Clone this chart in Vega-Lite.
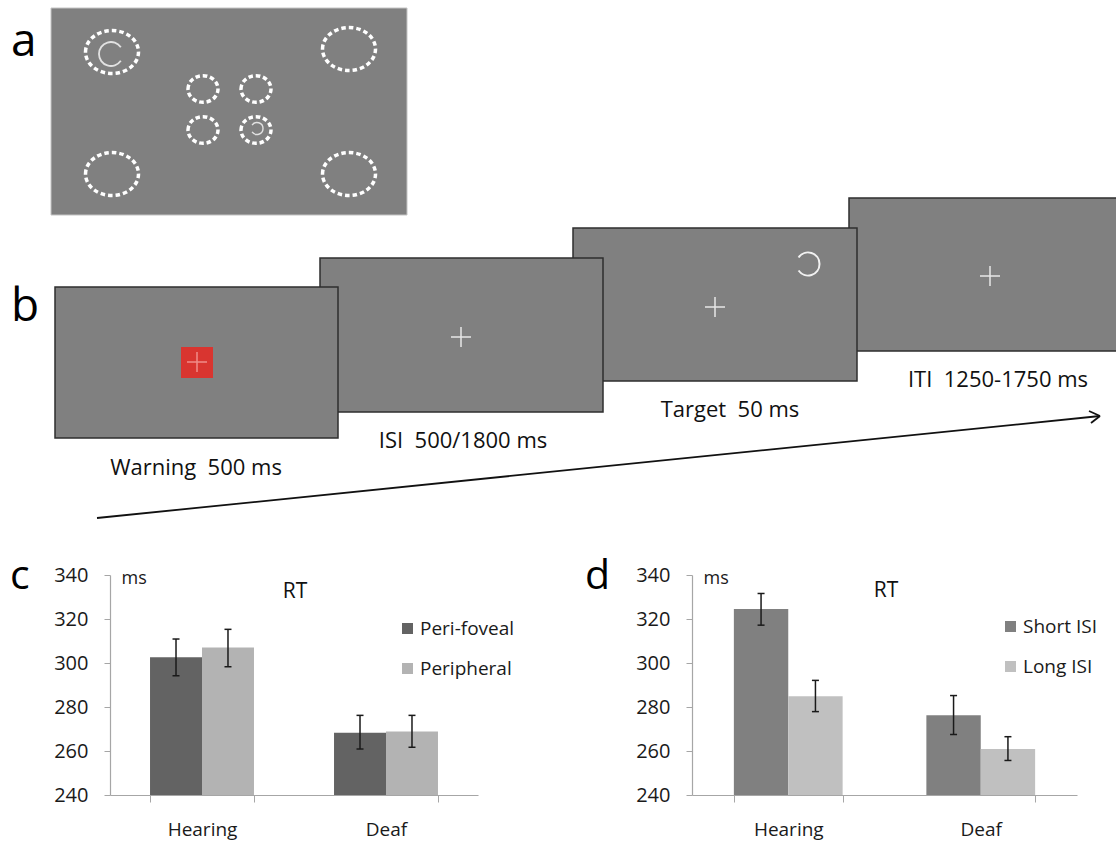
{
  "$schema": "https://vega.github.io/schema/vega-lite/v6.json",
  "width": 1116,
  "height": 841,
  "autosize": {"type": "none"},
  "padding": 0,
  "background": "white",
  "config": {"view": {"stroke": null}, "font": "Open Sans"},
  "datasets": {
    "display": [{"x": 51, "x2": 407, "y": 8, "y2": 215}],
    "screens": [
      {"screen": "ITI", "x": 849, "x2": 1125, "y": 198, "y2": 351},
      {"screen": "Target", "x": 573, "x2": 857, "y": 228, "y2": 381},
      {"screen": "ISI", "x": 320, "x2": 603, "y": 258, "y2": 412},
      {"screen": "Warning", "x": 55, "x2": 338, "y": 287, "y2": 438}
    ],
    "cue": [{"x": 181, "x2": 213, "y": 347, "y2": 378}],
    "bigPlaces": [{"x": 112, "y": 52}, {"x": 349, "y": 49}, {"x": 112, "y": 174}, {"x": 349, "y": 174}],
    "smallPlaces": [{"x": 203, "y": 89}, {"x": 256, "y": 89}, {"x": 203, "y": 130}, {"x": 256, "y": 130}],
    "fixation": [{"x": 461, "y": 337}, {"x": 715, "y": 307}, {"x": 990, "y": 276}],
    "cueFixation": [{"x": 197, "y": 362}],
    "bigC": [{"x": 111, "y": 54}],
    "targetC": [{"x": 808, "y": 264}],
    "smallC": [{"x": 257, "y": 128.5}],
    "timeline": [
      {"x": 97, "y": 518, "x2": 1100, "y2": 416},
      {"x": 1089, "y": 411, "x2": 1100, "y2": 416},
      {"x": 1091, "y": 423, "x2": 1100, "y2": 416}
    ],
    "panelLettersAB": [{"x": 11, "y": 56, "label": "a"}, {"x": 11, "y": 321, "label": "b"}],
    "panelLettersCD": [{"x": 10, "y": 589, "label": "c"}, {"x": 585, "y": 589, "label": "d"}],
    "stageLabels": [
      {"x": 196, "y": 475, "label": "Warning\u00a0 500 ms"},
      {"x": 463, "y": 448, "label": "ISI\u00a0 500/1800 ms"},
      {"x": 730, "y": 417, "label": "Target\u00a0 50 ms"},
      {"x": 998, "y": 387, "label": "ITI\u00a0 1250-1750 ms"}
    ],
    "chartTitles": [{"x": 295, "y": 598, "label": "RT"}, {"x": 886, "y": 597, "label": "RT"}],
    "rtLocation": [
      {"group": "Hearing", "condition": "Peri-foveal", "rt": 302.6, "lo": 294.2, "hi": 310.9},
      {"group": "Hearing", "condition": "Peripheral", "rt": 307.0, "lo": 298.3, "hi": 315.3},
      {"group": "Deaf", "condition": "Peri-foveal", "rt": 268.3, "lo": 260.9, "hi": 276.2},
      {"group": "Deaf", "condition": "Peripheral", "rt": 268.9, "lo": 261.7, "hi": 276.2}
    ],
    "rtISI": [
      {"group": "Hearing", "condition": "Short ISI", "rt": 324.5, "lo": 317.2, "hi": 331.6},
      {"group": "Hearing", "condition": "Long ISI", "rt": 284.9, "lo": 277.9, "hi": 292.1},
      {"group": "Deaf", "condition": "Short ISI", "rt": 276.2, "lo": 267.5, "hi": 285.2},
      {"group": "Deaf", "condition": "Long ISI", "rt": 260.9, "lo": 255.7, "hi": 266.5}
    ]
  },
  "layer": [
    {
      "layer": [
        {
          "data": {"name": "display"},
          "mark": {"type": "rect", "fill": "#808080", "stroke": "#c4c4c4", "strokeWidth": 1},
          "encoding": {
            "x": {"field": "x", "type": "quantitative", "scale": {"domain": [0, 1116], "nice": false, "zero": false}, "axis": null},
            "x2": {"field": "x2"},
            "y": {"field": "y", "type": "quantitative", "scale": {"domain": [0, 841], "nice": false, "zero": false, "reverse": true}, "axis": null},
            "y2": {"field": "y2"}
          }
        },
        {
          "data": {"name": "screens"},
          "mark": {"type": "rect", "fill": "#808080", "stroke": "#2e2e2e", "strokeWidth": 1.5},
          "encoding": {
            "x": {"field": "x", "type": "quantitative", "scale": {"domain": [0, 1116], "nice": false, "zero": false}, "axis": null},
            "x2": {"field": "x2"},
            "y": {"field": "y", "type": "quantitative", "scale": {"domain": [0, 841], "nice": false, "zero": false, "reverse": true}, "axis": null},
            "y2": {"field": "y2"}
          }
        },
        {
          "data": {"name": "cue"},
          "mark": {"type": "rect", "fill": "#d93530"},
          "encoding": {
            "x": {"field": "x", "type": "quantitative", "scale": {"domain": [0, 1116], "nice": false, "zero": false}, "axis": null},
            "x2": {"field": "x2"},
            "y": {"field": "y", "type": "quantitative", "scale": {"domain": [0, 841], "nice": false, "zero": false, "reverse": true}, "axis": null},
            "y2": {"field": "y2"}
          }
        },
        {
          "data": {"name": "bigPlaces"},
          "mark": {"type": "point", "shape": "M -1 0 A 1 0.81 0 1 1 1 0 A 1 0.81 0 1 1 -1 0 Z", "size": 2809, "filled": false, "color": "white", "strokeWidth": 3.5, "strokeDash": [4.5, 3], "opacity": 1},
          "encoding": {
            "x": {"field": "x", "type": "quantitative", "scale": {"domain": [0, 1116], "nice": false, "zero": false}, "axis": null},
            "y": {"field": "y", "type": "quantitative", "scale": {"domain": [0, 841], "nice": false, "zero": false, "reverse": true}, "axis": null}
          }
        },
        {
          "data": {"name": "smallPlaces"},
          "mark": {"type": "point", "shape": "M -1 0 A 1 0.89 0 1 1 1 0 A 1 0.89 0 1 1 -1 0 Z", "size": 900, "filled": false, "color": "white", "strokeWidth": 3.5, "strokeDash": [4.5, 2.8], "opacity": 1},
          "encoding": {
            "x": {"field": "x", "type": "quantitative", "scale": {"domain": [0, 1116], "nice": false, "zero": false}, "axis": null},
            "y": {"field": "y", "type": "quantitative", "scale": {"domain": [0, 841], "nice": false, "zero": false, "reverse": true}, "axis": null}
          }
        },
        {
          "data": {"name": "bigC"},
          "mark": {"type": "point", "shape": "M 0.82 -0.57 A 1 1 0 1 0 0.82 0.57", "size": 576, "filled": false, "color": "#e2e2e2", "strokeWidth": 1.8, "opacity": 1},
          "encoding": {
            "x": {"field": "x", "type": "quantitative", "scale": {"domain": [0, 1116], "nice": false, "zero": false}, "axis": null},
            "y": {"field": "y", "type": "quantitative", "scale": {"domain": [0, 841], "nice": false, "zero": false, "reverse": true}, "axis": null}
          }
        },
        {
          "data": {"name": "targetC"},
          "mark": {"type": "point", "shape": "M -0.82 -0.57 A 1 1 0 1 1 -0.82 0.57", "size": 529, "filled": false, "color": "#f2f2f2", "strokeWidth": 2, "opacity": 1},
          "encoding": {
            "x": {"field": "x", "type": "quantitative", "scale": {"domain": [0, 1116], "nice": false, "zero": false}, "axis": null},
            "y": {"field": "y", "type": "quantitative", "scale": {"domain": [0, 841], "nice": false, "zero": false, "reverse": true}, "axis": null}
          }
        },
        {
          "data": {"name": "smallC"},
          "mark": {"type": "point", "shape": "M -0.82 -0.57 A 1 1 0 1 1 -0.82 0.57", "size": 144, "filled": false, "color": "#e2e2e2", "strokeWidth": 1.4, "opacity": 1},
          "encoding": {
            "x": {"field": "x", "type": "quantitative", "scale": {"domain": [0, 1116], "nice": false, "zero": false}, "axis": null},
            "y": {"field": "y", "type": "quantitative", "scale": {"domain": [0, 841], "nice": false, "zero": false, "reverse": true}, "axis": null}
          }
        },
        {
          "data": {"name": "fixation"},
          "mark": {"type": "point", "shape": "M -1 0 L 1 0 M 0 -1 L 0 1", "size": 400, "filled": false, "color": "#e6e6e6", "strokeWidth": 1.5, "opacity": 1},
          "encoding": {
            "x": {"field": "x", "type": "quantitative", "scale": {"domain": [0, 1116], "nice": false, "zero": false}, "axis": null},
            "y": {"field": "y", "type": "quantitative", "scale": {"domain": [0, 841], "nice": false, "zero": false, "reverse": true}, "axis": null}
          }
        },
        {
          "data": {"name": "cueFixation"},
          "mark": {"type": "point", "shape": "M -1 0 L 1 0 M 0 -1 L 0 1", "size": 400, "filled": false, "color": "#f08c88", "strokeWidth": 1.5, "opacity": 1},
          "encoding": {
            "x": {"field": "x", "type": "quantitative", "scale": {"domain": [0, 1116], "nice": false, "zero": false}, "axis": null},
            "y": {"field": "y", "type": "quantitative", "scale": {"domain": [0, 841], "nice": false, "zero": false, "reverse": true}, "axis": null}
          }
        },
        {
          "data": {"name": "timeline"},
          "mark": {"type": "rule", "color": "#111111", "strokeWidth": 1.8},
          "encoding": {
            "x": {"field": "x", "type": "quantitative", "scale": {"domain": [0, 1116], "nice": false, "zero": false}, "axis": null},
            "x2": {"field": "x2"},
            "y": {"field": "y", "type": "quantitative", "scale": {"domain": [0, 841], "nice": false, "zero": false, "reverse": true}, "axis": null},
            "y2": {"field": "y2"}
          }
        },
        {
          "data": {"name": "panelLettersAB"},
          "mark": {"type": "text", "fontSize": 46, "align": "left", "baseline": "alphabetic", "color": "#000000"},
          "encoding": {
            "x": {"field": "x", "type": "quantitative", "scale": {"domain": [0, 1116], "nice": false, "zero": false}, "axis": null},
            "y": {"field": "y", "type": "quantitative", "scale": {"domain": [0, 841], "nice": false, "zero": false, "reverse": true}, "axis": null},
            "text": {"field": "label"}
          }
        },
        {
          "data": {"name": "panelLettersCD"},
          "mark": {"type": "text", "fontSize": 41, "align": "left", "baseline": "alphabetic", "color": "#000000"},
          "encoding": {
            "x": {"field": "x", "type": "quantitative", "scale": {"domain": [0, 1116], "nice": false, "zero": false}, "axis": null},
            "y": {"field": "y", "type": "quantitative", "scale": {"domain": [0, 841], "nice": false, "zero": false, "reverse": true}, "axis": null},
            "text": {"field": "label"}
          }
        },
        {
          "data": {"name": "stageLabels"},
          "mark": {"type": "text", "fontSize": 22, "align": "center", "baseline": "alphabetic", "color": "#111111"},
          "encoding": {
            "x": {"field": "x", "type": "quantitative", "scale": {"domain": [0, 1116], "nice": false, "zero": false}, "axis": null},
            "y": {"field": "y", "type": "quantitative", "scale": {"domain": [0, 841], "nice": false, "zero": false, "reverse": true}, "axis": null},
            "text": {"field": "label"}
          }
        },
        {
          "data": {"name": "chartTitles"},
          "mark": {"type": "text", "fontSize": 21, "align": "center", "baseline": "alphabetic", "color": "#111111"},
          "encoding": {
            "x": {"field": "x", "type": "quantitative", "scale": {"domain": [0, 1116], "nice": false, "zero": false}, "axis": null},
            "y": {"field": "y", "type": "quantitative", "scale": {"domain": [0, 841], "nice": false, "zero": false, "reverse": true}, "axis": null},
            "text": {"field": "label"}
          }
        }
      ]
    },
    {
      "data": {"name": "rtLocation"},
      "layer": [
        {
          "mark": {"type": "bar"},
          "encoding": {
            "x": {"field": "group", "type": "nominal", "sort": ["Hearing", "Deaf"], "scale": {"range": [110, 478], "paddingInner": 0.435, "paddingOuter": 0.2175},
              "axis": {"orient": "bottom", "offset": -46, "title": null, "labelAngle": 0, "tickBand": "extent", "tickSize": 7, "tickColor": "#a6a6a6", "domainColor": "#a6a6a6", "domainWidth": 1.2, "labelFontSize": 19, "labelColor": "#1a1a1a", "labelPadding": 18}},
            "xOffset": {"field": "condition", "type": "nominal", "sort": ["Peri-foveal", "Peripheral"]},
            "y": {"field": "rt", "type": "quantitative", "scale": {"domain": [240, 340], "range": [795, 575], "nice": false, "zero": false},
              "axis": {"orient": "left", "offset": -110, "values": [240, 260, 280, 300, 320, 340], "title": "ms", "titleAngle": 0, "titleAlign": "left", "titleBaseline": "alphabetic", "titleX": 11, "titleY": 583, "titleFontSize": 18, "titleFontWeight": "normal", "titleColor": "#1a1a1a", "grid": false, "tickSize": 6, "labelPadding": 16, "labelFontSize": 20, "labelColor": "#1a1a1a", "domainColor": "#a6a6a6", "domainWidth": 1.2, "tickColor": "#a6a6a6"}},
            "y2": {"datum": 240},
            "color": {"field": "condition", "type": "nominal", "scale": {"domain": ["Peri-foveal", "Peripheral"], "range": ["#636363", "#b3b3b3"]},
              "legend": {"orient": "none", "legendX": 398, "legendY": 619, "title": null, "symbolType": "square", "symbolSize": 121, "symbolStrokeWidth": 0, "labelFontSize": 19, "labelColor": "#1a1a1a", "labelOffset": 3, "rowPadding": 20}}
          }
        },
        {
          "mark": {"type": "rule", "color": "#1a1a1a", "strokeWidth": 1.5},
          "encoding": {
            "x": {"field": "group", "type": "nominal", "sort": ["Hearing", "Deaf"]},
            "xOffset": {"field": "condition", "type": "nominal", "sort": ["Peri-foveal", "Peripheral"]},
            "y": {"field": "lo", "type": "quantitative"},
            "y2": {"field": "hi"}
          }
        },
        {
          "mark": {"type": "tick", "color": "#1a1a1a", "size": 7, "thickness": 1.5, "opacity": 1},
          "encoding": {
            "x": {"field": "group", "type": "nominal", "sort": ["Hearing", "Deaf"]},
            "xOffset": {"field": "condition", "type": "nominal", "sort": ["Peri-foveal", "Peripheral"]},
            "y": {"field": "lo", "type": "quantitative"}
          }
        },
        {
          "mark": {"type": "tick", "color": "#1a1a1a", "size": 7, "thickness": 1.5, "opacity": 1},
          "encoding": {
            "x": {"field": "group", "type": "nominal", "sort": ["Hearing", "Deaf"]},
            "xOffset": {"field": "condition", "type": "nominal", "sort": ["Peri-foveal", "Peripheral"]},
            "y": {"field": "hi", "type": "quantitative"}
          }
        }
      ]
    },
    {
      "data": {"name": "rtISI"},
      "layer": [
        {
          "mark": {"type": "bar"},
          "encoding": {
            "x": {"field": "group", "type": "nominal", "sort": ["Hearing", "Deaf"], "scale": {"range": [692, 1077], "paddingInner": 0.435, "paddingOuter": 0.2175},
              "axis": {"orient": "bottom", "offset": -46, "title": null, "labelAngle": 0, "tickBand": "extent", "tickSize": 7, "tickColor": "#a6a6a6", "domainColor": "#a6a6a6", "domainWidth": 1.2, "labelFontSize": 19, "labelColor": "#1a1a1a", "labelPadding": 18}},
            "xOffset": {"field": "condition", "type": "nominal", "sort": ["Short ISI", "Long ISI"]},
            "y": {"field": "rt", "type": "quantitative", "scale": {"domain": [240, 340], "range": [795, 575], "nice": false, "zero": false},
              "axis": {"orient": "left", "offset": -692, "values": [240, 260, 280, 300, 320, 340], "title": "ms", "titleAngle": 0, "titleAlign": "left", "titleBaseline": "alphabetic", "titleX": 11, "titleY": 583, "titleFontSize": 18, "titleFontWeight": "normal", "titleColor": "#1a1a1a", "grid": false, "tickSize": 6, "labelPadding": 16, "labelFontSize": 20, "labelColor": "#1a1a1a", "domainColor": "#a6a6a6", "domainWidth": 1.2, "tickColor": "#a6a6a6"}},
            "y2": {"datum": 240},
            "color": {"field": "condition", "type": "nominal", "scale": {"domain": ["Short ISI", "Long ISI"], "range": ["#808080", "#c0c0c0"]},
              "legend": {"orient": "none", "legendX": 1001, "legendY": 617, "title": null, "symbolType": "square", "symbolSize": 121, "symbolStrokeWidth": 0, "labelFontSize": 19, "labelColor": "#1a1a1a", "labelOffset": 3, "rowPadding": 20}}
          }
        },
        {
          "mark": {"type": "rule", "color": "#1a1a1a", "strokeWidth": 1.5},
          "encoding": {
            "x": {"field": "group", "type": "nominal", "sort": ["Hearing", "Deaf"]},
            "xOffset": {"field": "condition", "type": "nominal", "sort": ["Short ISI", "Long ISI"]},
            "y": {"field": "lo", "type": "quantitative"},
            "y2": {"field": "hi"}
          }
        },
        {
          "mark": {"type": "tick", "color": "#1a1a1a", "size": 7, "thickness": 1.5, "opacity": 1},
          "encoding": {
            "x": {"field": "group", "type": "nominal", "sort": ["Hearing", "Deaf"]},
            "xOffset": {"field": "condition", "type": "nominal", "sort": ["Short ISI", "Long ISI"]},
            "y": {"field": "lo", "type": "quantitative"}
          }
        },
        {
          "mark": {"type": "tick", "color": "#1a1a1a", "size": 7, "thickness": 1.5, "opacity": 1},
          "encoding": {
            "x": {"field": "group", "type": "nominal", "sort": ["Hearing", "Deaf"]},
            "xOffset": {"field": "condition", "type": "nominal", "sort": ["Short ISI", "Long ISI"]},
            "y": {"field": "hi", "type": "quantitative"}
          }
        }
      ]
    }
  ],
  "resolve": {
    "scale": {"x": "independent", "y": "independent", "xOffset": "independent", "color": "independent"},
    "axis": {"x": "independent", "y": "independent"},
    "legend": {"color": "independent"}
  }
}
